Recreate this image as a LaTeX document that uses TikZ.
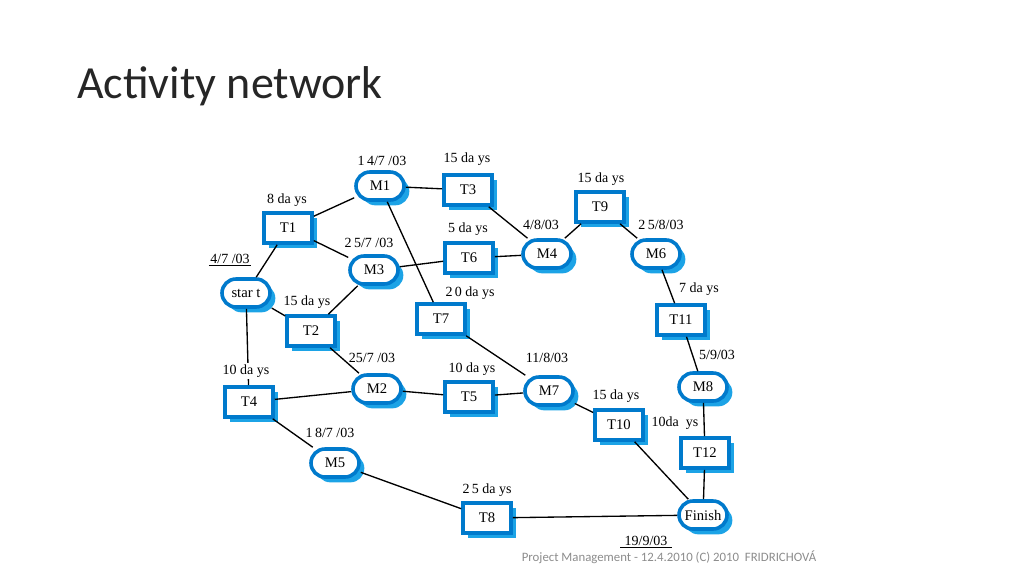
\documentclass[tikz,border=0pt]{standalone}
\usepackage{fontspec}
\setmainfont{Liberation Serif}
\newfontfamily\slidefont{Carlito}
\usetikzlibrary{shadows}

\definecolor{taskBlue}{RGB}{0,122,204}
\definecolor{shadowBlue}{RGB}{28,163,230}
\definecolor{footGray}{RGB}{140,140,140}

\tikzset{
    task/.style={
        draw=taskBlue, line width=2.7pt, fill=white,
        minimum width=36pt, minimum height=22.5pt, inner sep=1pt,
        font=\fontsize{11}{12}\selectfont,
        general shadow={fill=shadowBlue, shadow xshift=4pt, shadow yshift=-4pt}
    },
    milestone/.style={task, rounded corners=10.5pt, minimum width=36pt, minimum height=21pt},
    info/.style={inner sep=1pt, font=\fontsize{10.5}{12}\selectfont},
    link/.style={line width=1pt}
}

\begin{document}
\begin{tikzpicture}[x=0.75pt, y=-0.75pt]

% Page frame (pixel grid, y downwards)
\useasboundingbox (0,0) rectangle (1024,576);

% Title and footer
\node[anchor=west, inner sep=0pt, text=black!85] (title) at (77,86)
    {\slidefont\fontsize{34.5}{40}\selectfont Activity network};
\node[inner sep=0pt, text=footGray] (foot) at (669,557)
    {\slidefont\fontsize{9.6}{11}\selectfont Project Management - 12.4.2010 (C) 2010\ \ FRIDRICHOVÁ};

% Milestones
\node[milestone] (start)  at (246,293) {star t};
\node[milestone] (M1)     at (380,186) {M1};
\node[milestone] (M3)     at (374,270) {M3};
\node[milestone] (M2)     at (377,389) {M2};
\node[milestone] (M5)     at (335,463) {M5};
\node[milestone] (M4)     at (547,254) {M4};
\node[milestone] (M7)     at (549,391) {M7};
\node[milestone] (M6)     at (656,254) {M6};
\node[milestone] (M8)     at (703,387) {M8};
\node[milestone] (Finish) at (703,515) {Finish};

% Tasks
\node[task] (T1)  at (288,228) {T1};
\node[task] (T2)  at (311,331) {T2};
\node[task] (T4)  at (249,402) {T4};
\node[task] (T3)  at (468,190) {T3};
\node[task] (T6)  at (469,258) {T6};
\node[task] (T7)  at (441,319) {T7};
\node[task] (T5)  at (469,397) {T5};
\node[task] (T8)  at (487,518) {T8};
\node[task] (T9)  at (600,207) {T9};
\node[task] (T10) at (619,425) {T10};
\node[task] (T11) at (681,320) {T11};
\node[task] (T12) at (705,453) {T12};

% Dependencies
\draw[link] (start) -- (T1);
\draw[link] (start) -- (T2);
\draw[link] (start) -- (T4);
\draw[link] (T1) -- (M1);
\draw[link] (T1) -- (M3);
\draw[link] (T2) -- (M3);
\draw[link] (T2) -- (M2);
\draw[link] (T4) -- (M2);
\draw[link] (T4) -- (M5);
\draw[link] (M1) -- (T3);
\draw[link] (M1) -- (T7);
\draw[link] (M3) -- (T6);
\draw[link] (M2) -- (T5);
\draw[link] (M5) -- (T8);
\draw[link] (T3) -- (M4);
\draw[link] (T6) -- (M4);
\draw[link] (T7) -- (M7);
\draw[link] (T5) -- (M7);
\draw[link] (M4) -- (T9);
\draw[link] (T9) -- (M6);
\draw[link] (M6) -- (T11);
\draw[link] (T11) -- (M8);
\draw[link] (M8) -- (T12);
\draw[link] (T12) -- (Finish);
\draw[link] (M7) -- (T10);
\draw[link] (T10) -- (Finish);
\draw[link] (T8) -- (Finish);

% Durations
\node[info] (dT1)  at (287,200) {8 da ys};
\node[info] (dT2)  at (307,302) {15 da ys};
\node[info, fill=white] (dT4) at (246,371) {10 da ys};
\node[info] (dT3)  at (467,159) {15 da ys};
\node[info] (dT6)  at (468,229) {5 da ys};
\node[info] (dT7)  at (470,293) {2\,0 da ys};
\node[info] (dT5)  at (472,369) {10 da ys};
\node[info] (dT8)  at (487,490) {2\,5 da ys};
\node[info] (dT9)  at (601,179) {15 da ys};
\node[info] (dT10) at (616,396) {15 da ys};
\node[info] (dT11) at (699,289) {7 da ys};
\node[info] (dT12) at (675,423) {10da\ \ ys};

% Dates
\node[info] (dStart)  at (230,259) {4/7 /03};
\node[info] (dM1)     at (382,161) {1\,4/7 /03};
\node[info] (dM3)     at (369,243) {2\,5/7 /03};
\node[info] (dM2)     at (372,358) {25/7 /03};
\node[info] (dM5)     at (330,433) {1\,8/7 /03};
\node[info] (dM4)     at (541,225) {4/8/03};
\node[info] (dM7)     at (547,358) {11/8/03};
\node[info] (dM6)     at (661,225) {2\,5/8/03};
\node[info] (dM8)     at (717,355) {5/9/03};
\node[info] (dFinish) at (646,541) {19/9/03};

% Underlined start and finish dates
\draw[line width=0.8pt] (dStart.south west) -- (dStart.south east);
\draw[line width=0.8pt] ([xshift=-2pt]dFinish.south west) -- ([xshift=2pt]dFinish.south east);

\end{tikzpicture}
\end{document}
